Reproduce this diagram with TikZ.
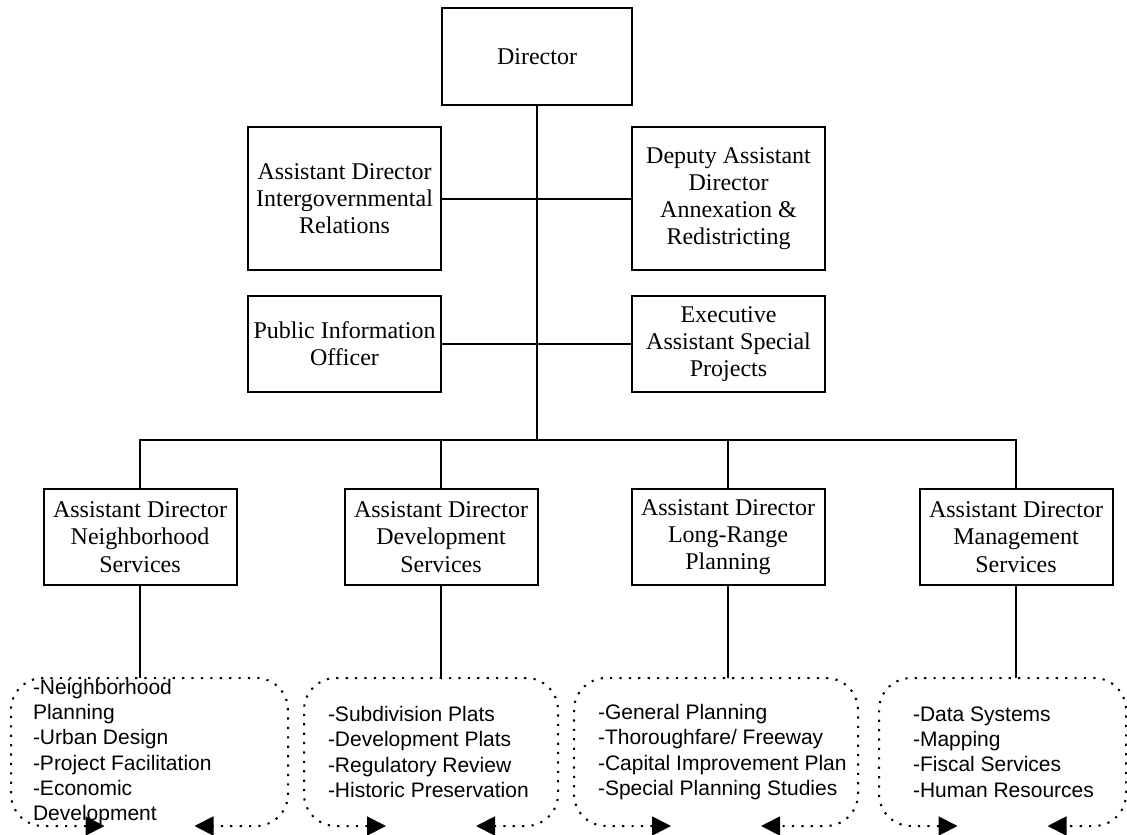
\documentclass[tikz,border=0pt]{standalone}
\usepackage{fontspec}
\setmainfont{Liberation Serif}
\setsansfont{Liberation Sans}
\usetikzlibrary{arrows.meta,positioning,calc}

\begin{document}
\begin{tikzpicture}[
  x=0.5pt, y=-0.5pt,
  line width=1pt,
  box/.style={draw,align=center,inner sep=2pt,
              minimum width=96.5pt,minimum height=48pt,
              font=\fontsize{12}{13.6}\selectfont},
  tallbox/.style={box,minimum height=71.5pt},
  taskframe/.style={minimum width=#1,minimum height=73pt,inner sep=0pt},
  tasklist/.style={anchor=west,align=left,inner sep=0pt,
                   font=\sffamily\fontsize{10.5}{12.6}\selectfont},
  cyclepath/.style={dash pattern=on 1.1pt off 3.6pt,rounded corners=16pt,
                    {Triangle[length=9.5pt,width=9.5pt]}-{Triangle[length=9.5pt,width=9.5pt]}}
]
\useasboundingbox (0,0) rectangle (1127,834);

% top of the chart
\node[box,minimum width=95pt,minimum height=48.5pt] (dir) at (537,56.5) {Director};
\node[tallbox] (intergov) at (344.5,198.5)
      {Assistant Director\\Intergovernmental\\Relations};
\node[tallbox] (deputy) at (728.5,198.5)
      {Deputy Assistant\\Director\\Annexation \&\\Redistricting};
\node[box] (pio) at (344.5,344) {Public Information\\Officer};
\node[box] (exec) at (728.5,344) {Executive\\Assistant Special\\Projects};
\coordinate (bus) at (537,440);

% assistant directors
\node[box] (nbhd) at (140,537) {Assistant Director\\Neighborhood\\Services};
\node[box] (dev) at (441,537) {Assistant Director\\Development\\Services};
\node[box] (lr) at (728,537) {Assistant Director\\Long-Range\\Planning};
\node[box] (mgmt) at (1016,537) {Assistant Director\\Management\\Services};

\draw (dir.south) -- (bus);
\draw (intergov.east) -- (deputy.west);
\draw (pio.east) -- (exec.west);
\draw (nbhd.north) -- (nbhd.north |- bus) -- (mgmt.north |- bus) -- (mgmt.north);
\draw (dev.north) -- (dev.north |- bus);
\draw (lr.north) -- (lr.north |- bus);

% task groups
\node[taskframe=137.5pt] (nbhdframe) at (149.5,752) {};
\node[taskframe=126pt] (devframe) at (431,752) {};
\node[taskframe=141pt] (lrframe) at (716,752) {};
\node[taskframe=122.5pt] (mgmtframe) at (1002.5,752) {};

\node[tasklist] (nbhdtasks) at ([xshift=10.5pt]nbhdframe.west)
      {-Neighborhood\\Planning\\-Urban Design\\-Project Facilitation\\-Economic\\Development};
\node[tasklist] (devtasks) at ([xshift=11.5pt]devframe.west)
      {-Subdivision Plats\\-Development Plats\\-Regulatory Review\\-Historic Preservation};
\node[tasklist] (lrtasks) at ([xshift=11.5pt]lrframe.west)
      {-General Planning\\-Thoroughfare/ Freeway\\-Capital Improvement Plan\\-Special Planning Studies};
\node[tasklist] (mgmttasks) at ([xshift=16.5pt]mgmtframe.west)
      {-Data Systems\\-Mapping\\-Fiscal Services\\-Human Resources};

\foreach \f in {nbhdframe,devframe,lrframe,mgmtframe}
  \draw[cyclepath] ([xshift=-22.5pt]\f.south) -| (\f.north west)
                   -| (\f.south east) -- ([xshift=22.5pt]\f.south);

\draw (nbhd.south) -- (nbhd.south |- nbhdframe.north);
\draw (dev.south) -- (dev.south |- devframe.north);
\draw (lr.south) -- (lr.south |- lrframe.north);
\draw (mgmt.south) -- (mgmt.south |- mgmtframe.north);
\end{tikzpicture}
\end{document}
